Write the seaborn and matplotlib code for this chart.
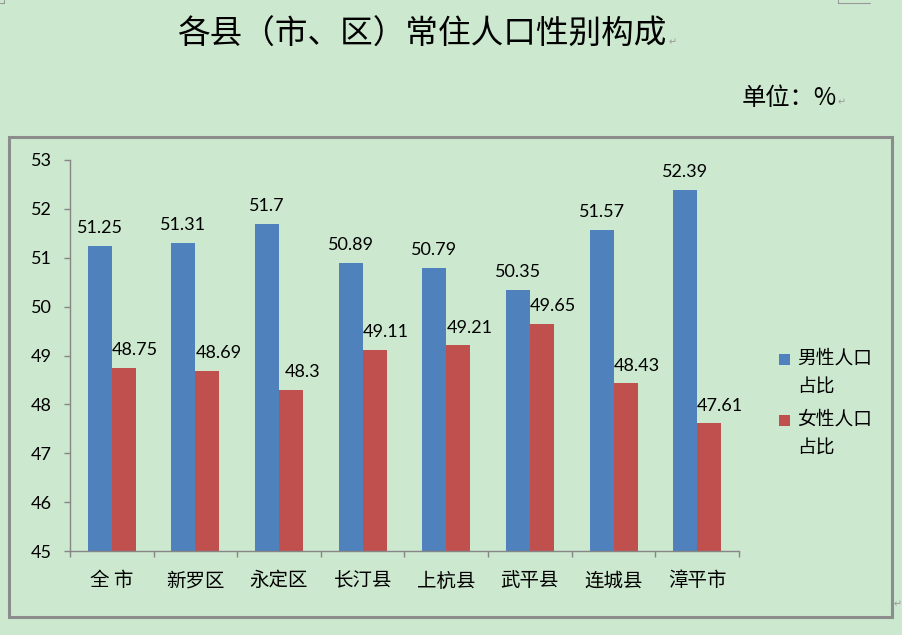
import matplotlib
matplotlib.use("Agg")
import matplotlib.pyplot as plt
import matplotlib.patches as mpatches
import matplotlib.lines as mlines
from matplotlib.ticker import FixedLocator, MultipleLocator
import seaborn as sns
import pandas as pd

# ---- data ----
regions = ["全 市", "新罗区", "永定区", "长汀县", "上杭县", "武平县", "连城县", "漳平市"]
male = [51.25, 51.31, 51.7, 50.89, 50.79, 50.35, 51.57, 52.39]
female = [48.75, 48.69, 48.3, 49.11, 49.21, 49.65, 48.43, 47.61]
series_names = ["男性人口\n占比", "女性人口\n占比"]
title = "各县（市、区）常住人口性别构成"
unit = "单位：%"

BG = "#CCE8CF"
BLUE = "#4F81BD"
RED = "#C0504D"
GREY = "#868686"
CJK = ["Noto Sans CJK SC", "DejaVu Sans"]
LBL = ["Lato", "DejaVu Sans"]

sns.set_theme(style="white")
plt.rcParams["font.family"] = CJK
plt.rcParams["axes.unicode_minus"] = False

df = pd.DataFrame({
    "region": regions * 2,
    "sex": [series_names[0]] * len(regions) + [series_names[1]] * len(regions),
    "value": male + female,
})

W, H = 903, 635
fig = plt.figure(figsize=(W / 100, H / 100), dpi=100, facecolor=BG)

def fx(px):
    return px / W

def fy(py):
    return 1 - py / H

# outer chart frame
frame = mpatches.Rectangle((fx(9), fy(617)), fx(892) - fx(9), fy(137) - fy(617),
                           transform=fig.transFigure, fill=False,
                           edgecolor="#8C8C8C", linewidth=2.2, zorder=0)
fig.patches.append(frame)

ax_left, ax_right, ax_top, ax_bot = 70, 739, 160, 551
ax = fig.add_axes([fx(ax_left), fy(ax_bot), fx(ax_right - ax_left), fy(ax_top) - fy(ax_bot)])
ax.set_facecolor("none")

sns.barplot(data=df, x="region", y="value", hue="sex", order=regions,
            hue_order=series_names, palette=[BLUE, RED], width=0.574,
            saturation=1, ax=ax, legend=False, errorbar=None,
            linewidth=0, edgecolor="none")

ax.set_ylim(45, 53)
ax.set_xlim(-0.5, len(regions) - 0.5)
ax.set_xlabel("")
ax.set_ylabel("")
ax.yaxis.set_major_locator(MultipleLocator(1))

for s in ["top", "right"]:
    ax.spines[s].set_visible(False)
for s in ["left", "bottom"]:
    ax.spines[s].set_color(GREY)
    ax.spines[s].set_linewidth(1.0)

ax.tick_params(axis="y", which="major", direction="out", length=4.3, width=1,
               color=GREY, pad=9, left=True, labelsize=13)
for lab in ax.get_yticklabels():
    lab.set_fontfamily(LBL)
    lab.set_color("black")

ax.xaxis.set_minor_locator(FixedLocator([i - 0.5 for i in range(len(regions) + 1)]))
ax.tick_params(axis="x", which="minor", direction="out", length=4.3, width=1,
               color=GREY, bottom=True)
ax.tick_params(axis="x", which="major", length=0, pad=14, labelsize=14)
for lab in ax.get_xticklabels():
    lab.set_fontfamily(CJK)
    lab.set_color("black")

# data labels
offsets = [0, 8]
for cont, off in zip(ax.containers, offsets):
    for rect in cont:
        h = rect.get_height()
        ax.annotate(f"{h:g}", xy=(rect.get_x() + rect.get_width() / 2, h),
                    xytext=(off, 7), textcoords="offset points",
                    ha="center", va="bottom", fontsize=13,
                    family=LBL, color="black", annotation_clip=False)

# title and unit
fig.text(fx(422), fy(35), title, ha="center", va="center", fontsize=23.5,
         family=CJK, color="black")
fig.text(fx(669), fy(42), "↵", ha="left", va="center", fontsize=7, color="#999999",
         family=["DejaVu Sans"])
fig.text(fx(789), fy(98), unit, ha="center", va="center", fontsize=17.5,
         family=CJK, color="black")
fig.text(fx(838), fy(102), "↵", ha="left", va="center", fontsize=7, color="#999999",
         family=["DejaVu Sans"])
fig.text(fx(894), fy(604), "↵", ha="left", va="center", fontsize=7, color="#999999",
         family=["DejaVu Sans"])

# legend (manual, Excel style: marker aligned with first text line)
leg_y = [359, 420]
for name, col, yc in zip(series_names, [BLUE, RED], leg_y):
    sq = mpatches.Rectangle((fx(779), fy(yc + 5.5)), fx(11), fy(yc - 5.5) - fy(yc + 5.5),
                            transform=fig.transFigure, facecolor=col, edgecolor="none")
    fig.patches.append(sq)
    fig.text(fx(797), fy(yc - 11), name, ha="left", va="top", fontsize=13.5,
             family=CJK, color="black", linespacing=1.45)

# page corner marks
for xs, ys in [([0, 4], [3, 3]), ([4, 4], [0, 3]),
               ([838, 838], [0, 3]), ([838, 870], [3, 3])]:
    fig.lines.append(mlines.Line2D([fx(x) for x in xs], [fy(y) for y in ys],
                                   transform=fig.transFigure, color="#999999", lw=0.8))

fig.savefig("out.png", dpi=100, facecolor=BG)
